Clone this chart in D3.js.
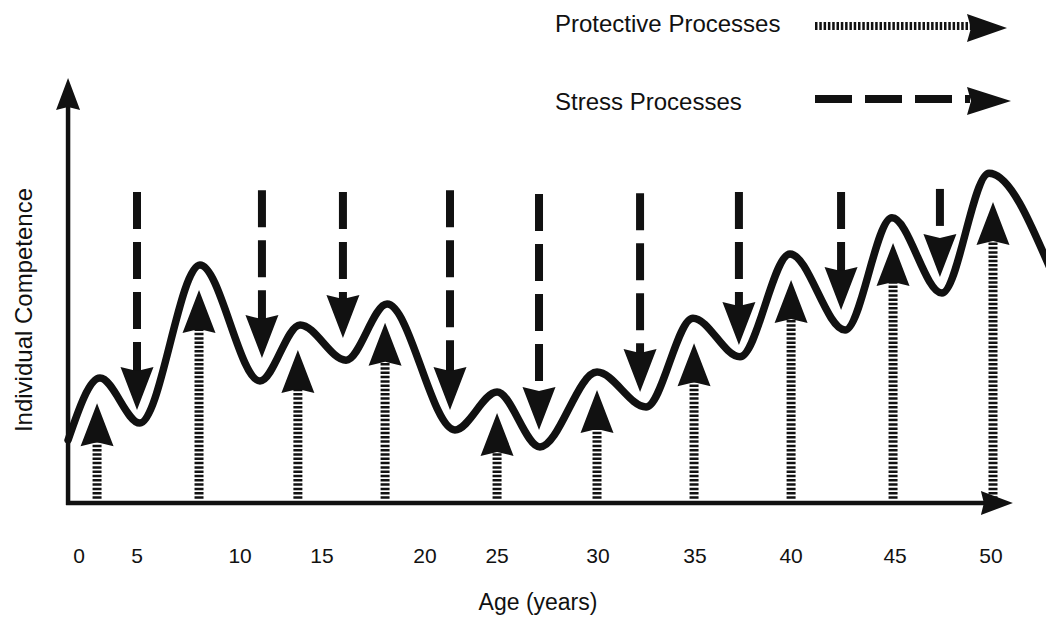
<!DOCTYPE html>
<html>
<head>
<meta charset="utf-8">
<script src="https://cdn.jsdelivr.net/npm/d3@7"></script>
<style>
  html, body { margin: 0; padding: 0; background: #fff; }
  svg { display: block; }
  text { font-family: "Liberation Sans", Arial, Helvetica, sans-serif; fill: #111; }
</style>
</head>
<body>
<svg id="chart" width="1046" height="620"></svg>
<script>
// ---------------- data ----------------
// Age axis labels and where they sit along the (schematic) age axis
const ageTickLabels = ["0", "5", "10", "15", "20", "25", "30", "35", "40", "45", "50"];
const ageTickAt     = [0, 3.18, 8.83, 13.32, 18.97, 22.92, 28.45, 33.77, 39.04, 44.74, 50];

// Individual competence trajectory (turning points)
const curveAge        = [-0.6, 1.15, 3.34, 6.63, 9.92, 12.12, 14.64, 16.89, 20.61, 22.92, 25.27, 28.40, 31.09, 33.66, 36.24, 38.98, 42.00, 44.57, 47.31, 49.89, 53.23];
const curveCompetence = [14.8, 29.4, 18.8, 56.0, 28.7, 41.9, 33.6, 46.8, 17.2, 26.1, 13.2, 30.8, 22.6, 43.5, 34.4, 58.6, 40.7, 67.1, 49.4, 77.6, 55.3];

// Protective processes (upward arrows): age and arrow tip level
const protectiveAge = [0.99, 6.58, 12.0, 16.78, 22.92, 28.40, 33.72, 39.04, 44.63, 50.11];
const protectiveTip = [23.5, 50.1, 36.0, 42.4, 21.2, 26.6, 37.6, 52.5, 61.2, 70.8];
const protectiveBase = 1;

// Stress processes (downward arrows): age, start level and arrow tip level
const stressAge   = [3.18, 10.03, 14.47, 20.34, 25.22, 30.76, 36.18, 41.78, 47.20];
const stressStart = [73.2, 73.6, 73.2, 73.6, 72.7, 72.9, 73.2, 73.2, 73.9];
const stressTip   = [21.9, 34.1, 38.8, 21.9, 17.2, 26.1, 37.2, 45.4, 53.2];

const legendItems = ["Protective Processes", "Stress Processes"];

// ---------------- scales ----------------
const svg = d3.select("#chart");
const x = d3.scaleLinear().domain([0, 50]).range([79, 991]);
const y = d3.scaleLinear().domain([0, 100]).range([503, 78]);

const xAxisStart = -0.6, xAxisEnd = 51.2;
const INK = "#111";

// arrowhead path: tip at (tx,ty), dir = -1 up, +1 down, +1 right for horizontal
function headV(tx, ty, dir, len, half, notch) {
  // dir: -1 pointing up, +1 pointing down
  const b = ty - dir * len, n = ty - dir * (len - notch);
  return `M${tx},${ty}L${tx - half},${b}L${tx},${n}L${tx + half},${b}Z`;
}
function headH(tx, ty, len, half, notch) {
  return `M${tx},${ty}L${tx - len},${ty - half}L${tx - len + notch},${ty}L${tx - len},${ty + half}Z`;
}

const HEAD_LEN = 43, HEAD_HALF = 16.5, HEAD_NOTCH = 4;

// ---------------- protective arrows ----------------
const prot = svg.append("g");
protectiveAge.forEach((a, i) => {
  const px = x(a), tip = y(protectiveTip[i]);
  prot.append("line")
    .attr("x1", px).attr("x2", px)
    .attr("y1", y(protectiveBase)).attr("y2", tip + HEAD_LEN - HEAD_NOTCH)
    .attr("stroke", INK).attr("stroke-width", 9)
    .attr("stroke-dasharray", "2.5,1.8");
  prot.append("path").attr("d", headV(px, tip, -1, HEAD_LEN, HEAD_HALF, HEAD_NOTCH)).attr("fill", INK);
});

// ---------------- stress arrows ----------------
const str = svg.append("g");
stressAge.forEach((a, i) => {
  const px = x(a), tip = y(stressTip[i]);
  str.append("line")
    .attr("x1", px).attr("x2", px)
    .attr("y1", y(stressStart[i])).attr("y2", tip - HEAD_LEN + HEAD_NOTCH)
    .attr("stroke", INK).attr("stroke-width", 8)
    .attr("stroke-dasharray", "37,13");
  str.append("path").attr("d", headV(px, tip, 1, HEAD_LEN, HEAD_HALF, HEAD_NOTCH)).attr("fill", INK);
});

// ---------------- competence curve ----------------
const pts = curveAge.map((a, i) => [a, curveCompetence[i]]);
const line = d3.line().x(d => x(d[0])).y(d => y(d[1])).curve(d3.curveMonotoneX);
svg.append("path").attr("d", line(pts)).attr("fill", "none")
  .attr("stroke", "#fff").attr("stroke-width", 16).attr("stroke-linejoin", "round");
svg.append("path").attr("d", line(pts)).attr("fill", "none")
  .attr("stroke", INK).attr("stroke-width", 7.5).attr("stroke-linejoin", "round").attr("stroke-linecap", "round");

// ---------------- axes ----------------
const axX0 = x(xAxisStart), axY0 = y(0);
// y axis
svg.append("line").attr("x1", axX0).attr("x2", axX0).attr("y1", axY0 + 2).attr("y2", y(100) + 28)
  .attr("stroke", INK).attr("stroke-width", 4.5);
svg.append("path").attr("d", headV(axX0, y(100), -1, 32, 12, 3)).attr("fill", INK);
// x axis
svg.append("line").attr("x1", axX0 - 2).attr("x2", x(xAxisEnd) - 28).attr("y1", axY0).attr("y2", axY0)
  .attr("stroke", INK).attr("stroke-width", 4.5);
svg.append("path").attr("d", headH(x(xAxisEnd), axY0, 32, 12, 3)).attr("fill", INK);

// tick labels
svg.append("g").selectAll("text").data(ageTickLabels).join("text")
  .attr("x", (d, i) => x(ageTickAt[i])).attr("y", 563)
  .attr("text-anchor", "middle").attr("font-size", 21).text(d => d);

// axis titles
svg.append("text").attr("x", 538).attr("y", 610).attr("text-anchor", "middle")
  .attr("font-size", 23).text("Age (years)");
svg.append("text").attr("transform", "translate(32,310) rotate(-90)").attr("text-anchor", "middle")
  .attr("font-size", 24).text("Individual Competence");

// ---------------- legend ----------------
const lg = svg.append("g");
lg.append("text").attr("x", 555).attr("y", 32).attr("font-size", 24).text(legendItems[0]);
lg.append("line").attr("x1", 815).attr("x2", 971).attr("y1", 26).attr("y2", 26)
  .attr("stroke", INK).attr("stroke-width", 8).attr("stroke-dasharray", "2.5,1.8");
lg.append("path").attr("d", headH(1007, 28, 40, 14, 4)).attr("fill", INK);

lg.append("text").attr("x", 555).attr("y", 110).attr("font-size", 24).text(legendItems[1]);
lg.append("line").attr("x1", 815).attr("x2", 970).attr("y1", 99).attr("y2", 99)
  .attr("stroke", INK).attr("stroke-width", 8).attr("stroke-dasharray", "37,13");
lg.append("path").attr("d", headH(1011, 101, 44, 14, 4)).attr("fill", INK);
</script>
</body>
</html>
